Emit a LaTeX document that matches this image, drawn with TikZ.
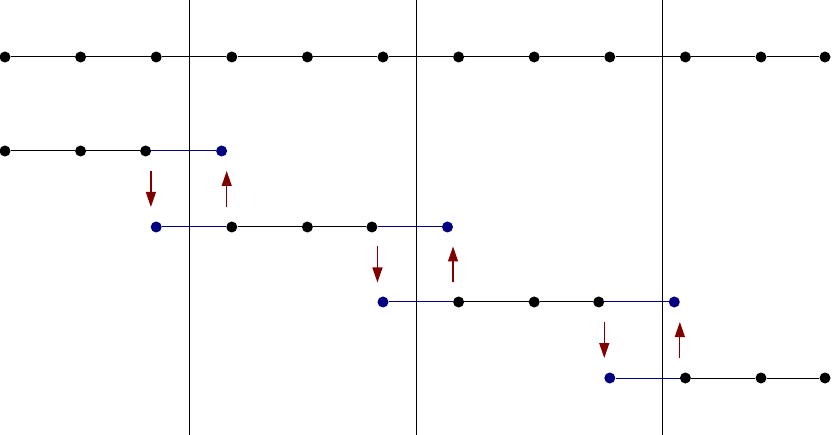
\documentclass[tikz,border=0pt]{standalone}
\usepackage{tikz}
\usetikzlibrary{positioning,arrows.meta,calc}
\usepackage{xcolor}
\definecolor{navyblue}{HTML}{000080}
\definecolor{darkred}{HTML}{800000}

\begin{document}
\begin{tikzpicture}[
    x=1pt, y=-1pt, on grid,
    dot/.style={circle, fill=black, inner sep=0pt, minimum size=11pt},
    bdot/.style={dot, fill=navyblue},
    link/.style={line width=1pt, black},
    blink/.style={line width=1pt, navyblue},
    sep/.style={line width=0.9pt, black},
    move/.style={-{Triangle[length=15pt,width=10pt]}, line width=1.2pt, darkred},
]
\useasboundingbox (0,0) rectangle (832,435);

% vertical separators
\coordinate (s1) at (189,0); \coordinate (s2) at (416,0); \coordinate (s3) at (662,0);
\draw[sep] (s1) -- (s1 |- 0,435);
\draw[sep] (s2) -- (s2 |- 0,435);
\draw[sep] (s3) -- (s3 |- 0,435);

% top row
\node[dot] (a1) at (5,57) {};
\node[dot, right=75.6pt of a1] (a2) {};
\node[dot, right=75.6pt of a2] (a3) {};
\node[dot, right=75.6pt of a3] (a4) {};
\node[dot, right=75.6pt of a4] (a5) {};
\node[dot, right=75.6pt of a5] (a6) {};
\node[dot, right=75.6pt of a6] (a7) {};
\node[dot, right=75.6pt of a7] (a8) {};
\node[dot, right=75.6pt of a8] (a9) {};
\node[dot, right=75.6pt of a9] (a10) {};
\node[dot, right=75.6pt of a10] (a11) {};
\node[dot, right=64pt of a11] (a12) {};
\draw[link] (a1)--(a2)--(a3)--(a4)--(a5)--(a6)--(a7)--(a8)--(a9)--(a10)--(a11)--(a12);

% second row
\node[dot] (b1) at (5,151) {};
\node[dot, right=75.6pt of b1] (b2) {};
\node[dot, right=65pt of b2] (b3) {};
\node[bdot, right=76pt of b3] (b4) {};
\draw[link] (b1)--(b2)--(b3);
\draw[blink] (b3)--(b4);

% third row
\node[bdot, below=170pt of a3] (c1) {};
\node[dot, right=75.6pt of c1] (c2) {};
\node[dot, right=75.6pt of c2] (c3) {};
\node[dot, right=64.5pt of c3] (c4) {};
\node[bdot, right=75.6pt of c4] (c5) {};
\draw[blink] (c1)--(c2);
\draw[link] (c2)--(c3)--(c4);
\draw[blink] (c4)--(c5);

% fourth row
\node[bdot, below=245pt of a6] (d1) {};
\node[dot, right=75.6pt of d1] (d2) {};
\node[dot, right=75.6pt of d2] (d3) {};
\node[dot, right=64.5pt of d3] (d4) {};
\node[bdot, right=75.6pt of d4] (d5) {};
\draw[blink] (d1)--(d2);
\draw[link] (d2)--(d3)--(d4);
\draw[blink] (d4)--(d5);

% fifth row
\node[bdot, below=321pt of a9] (e1) {};
\node[dot, right=75.6pt of e1] (e2) {};
\node[dot, right=75.6pt of e2] (e3) {};
\node[dot, right=64pt of e3] (e4) {};
\draw[blink] (e1)--(e2);
\draw[link] (e2)--(e3)--(e4);

% moves between rows
\draw[move] ($(b3)!0.5!(c1)+(0,-18)$) -- ($(b3)!0.5!(c1)+(0,18)$);
\draw[move] ($(b4)!0.5!(c2)+(0,18)$) -- ($(b4)!0.5!(c2)+(0,-18)$);
\draw[move] ($(c4)!0.5!(d1)+(0,-18)$) -- ($(c4)!0.5!(d1)+(0,18)$);
\draw[move] ($(c5)!0.5!(d2)+(0,18)$) -- ($(c5)!0.5!(d2)+(0,-18)$);
\draw[move] ($(d4)!0.5!(e1)+(0,-18)$) -- ($(d4)!0.5!(e1)+(0,18)$);
\draw[move] ($(d5)!0.5!(e2)+(0,18)$) -- ($(d5)!0.5!(e2)+(0,-18)$);
\end{tikzpicture}
\end{document}
